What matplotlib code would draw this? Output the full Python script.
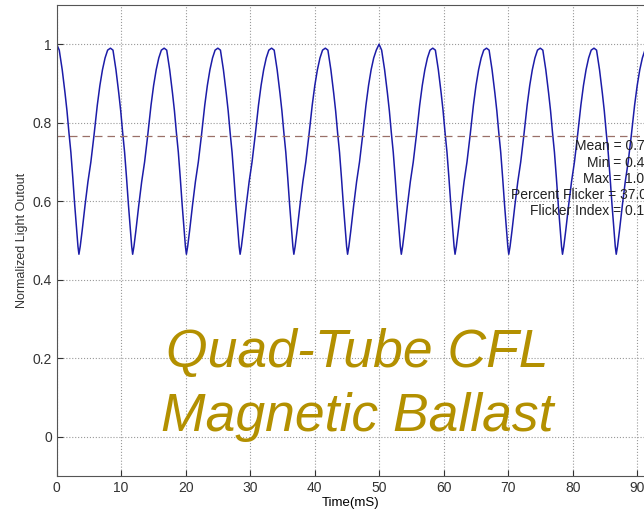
import matplotlib
matplotlib.use('Agg')
import matplotlib.pyplot as plt
import numpy as np

# one cycle of the light output (ms after a peak, value)
cycle_t = [0.00, 0.40, 0.86, 1.30, 1.60, 1.90, 2.20, 2.50, 2.80, 3.10, 3.30, 3.45,
           3.65, 3.95, 4.40, 4.85, 5.30, 5.78, 6.30, 6.70, 7.10, 7.50, 7.90]
cycle_y = [1.000, 0.985, 0.935, 0.875, 0.830, 0.775, 0.725, 0.660, 0.590, 0.525, 0.485, 0.465,
           0.485, 0.525, 0.590, 0.650, 0.700, 0.767, 0.845, 0.895, 0.935, 0.965, 0.985]
period = 8.33  # ms
peaks = [1.0, 0.99, 0.99, 0.99, 0.99, 0.99, 1.0, 0.99, 0.99, 0.99, 0.99, 1.0, 0.99]

mean_val = 0.767
stats = ['Mean = 0.767', 'Min = 0.460', 'Max = 1.000',
         'Percent Flicker = 37.0%', 'Flicker Index = 0.121']
stats_y = [0.740, 0.698, 0.657, 0.617, 0.576]

t, y = [], []
for k, pk in enumerate(peaks):
    for ti, yi in zip(cycle_t, cycle_y):
        t.append(k * period + ti)
        y.append(pk if ti == 0 else yi)
t = np.array(t)
y = np.array(y)
keep = t <= 100
t, y = t[keep], y[keep]

plt.rcParams['font.family'] = ['Liberation Sans', 'DejaVu Sans']

fig = plt.figure(figsize=(6.44, 5.15), dpi=100)
ax = fig.add_axes([0.088, 0.0757, 1.0016, 0.9146])

ax.plot(t, y, color='#1c1ca8', lw=1.1)
ax.plot([0, 100], [mean_val, mean_val], ls=(0, (6, 4)), color='#9a7068', lw=0.9)

# stats box runs past the right edge, as in the original screenshot
for s, sy in zip(stats, stats_y):
    ax.text(93.5, sy, s, ha='right', va='center', fontsize=10, color='#222222')

ax.text(46.6, 0.177, 'Quad-Tube CFL', ha='center', va='baseline',
        fontsize=38.5, style='italic', color='#b39000')
ax.text(46.6, 0.015, 'Magnetic Ballast', ha='center', va='baseline',
        fontsize=38.5, style='italic', color='#b39000')

ax.set_xlim(0, 100)
ax.set_ylim(-0.1, 1.1)
ax.set_xticks(np.arange(0, 101, 10))
ax.set_yticks([0, 0.2, 0.4, 0.6, 0.8, 1])
ax.set_yticklabels(['0', '0.2', '0.4', '0.6', '0.8', '1'])
ax.tick_params(direction='in', labelsize=10, colors='#333333', length=4)
ax.grid(True, ls=':', color='#999999', lw=0.8)
for sp in ax.spines.values():
    sp.set_color('#555555')

ax.set_xlabel('Time(mS)', fontsize=9.5, labelpad=2)
ax.xaxis.set_label_coords(0.456, -0.045)
ax.set_ylabel('Normalized Light Outout', fontsize=9, labelpad=3, color='#333333')

fig.savefig('out.png', dpi=100)
